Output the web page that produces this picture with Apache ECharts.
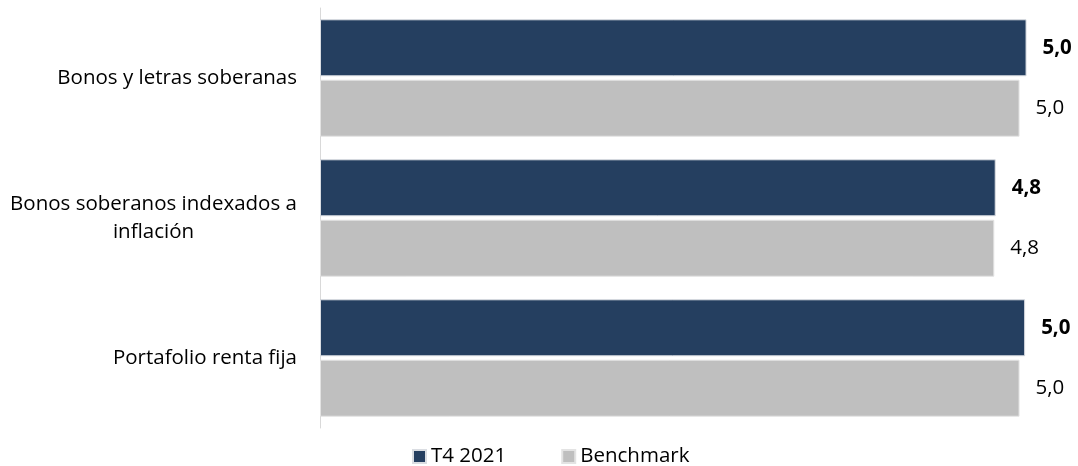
<!DOCTYPE html>
<html><head><meta charset="utf-8">
<script src="https://cdn.jsdelivr.net/npm/echarts@6/dist/echarts.min.js"></script>
<style>html,body{margin:0;padding:0;background:#fff}#c{width:1078px;height:466px}</style>
</head><body><div id="c"></div>
<script>
const categories = ['Bonos y letras soberanas', 'Bonos soberanos indexados a\ninflación', 'Portafolio renta fija'];
const seriesNames = ['T4 2021', 'Benchmark'];
const t4Values = [5.04, 4.82, 5.03];
const benchmarkValues = [4.99, 4.81, 4.99];

const FONT = 'Open Sans';
const FS = 20.5;
const ctx = document.createElement('canvas').getContext('2d');
ctx.font = FS + 'px "' + FONT + '"';
const lineW = s => Math.ceil(ctx.measureText(s).width);
const w2 = Math.max.apply(null, categories[1].split('\n').map(lineW));

const chart = echarts.init(document.getElementById('c'), null, {renderer: 'canvas'});
const fmt = p => p.value.toFixed(1).replace('.', ',');
chart.setOption({
  animation: false,
  textStyle: {fontFamily: FONT},
  grid: {left: 320, right: 15, top: 8, bottom: 38},
  legend: {
    top: 441, left: 407, itemWidth: 13, itemHeight: 13, itemGap: 55,
    icon: 'rect',
    textStyle: {fontSize: FS, color: '#000', fontFamily: FONT},
    data: seriesNames
  },
  xAxis: {type: 'value', min: 0, max: 5.3, show: false},
  yAxis: {
    type: 'category', inverse: true, data: categories,
    axisLine: {show: true, lineStyle: {color: '#D9D9D9', width: 1}},
    axisTick: {show: false},
    axisLabel: {
      margin: 23, fontSize: FS, color: '#000', fontFamily: FONT, lineHeight: 28,
      formatter: v => v.indexOf('\n') < 0 ? v : v.split('\n').map(s => '{c|' + s + '}').join('\n'),
      rich: {c: {width: w2, align: 'center', fontSize: FS, color: '#000', lineHeight: 28, fontFamily: FONT}}
    }
  },
  series: [
    {
      name: seriesNames[0], type: 'bar', data: t4Values, barWidth: 57, barGap: '6%',
      itemStyle: {color: '#253F60', borderColor: '#DADDE2', borderWidth: 1},
      label: {show: true, position: 'right', distance: 16, formatter: fmt, fontSize: FS, fontWeight: 'bold', color: '#000'}
    },
    {
      name: seriesNames[1], type: 'bar', data: benchmarkValues, barWidth: 57,
      itemStyle: {color: '#BFBFBF', borderColor: '#E3E3E3', borderWidth: 1},
      label: {show: true, position: 'right', distance: 16, formatter: fmt, fontSize: FS, color: '#000'}
    }
  ]
});
</script></body></html>
